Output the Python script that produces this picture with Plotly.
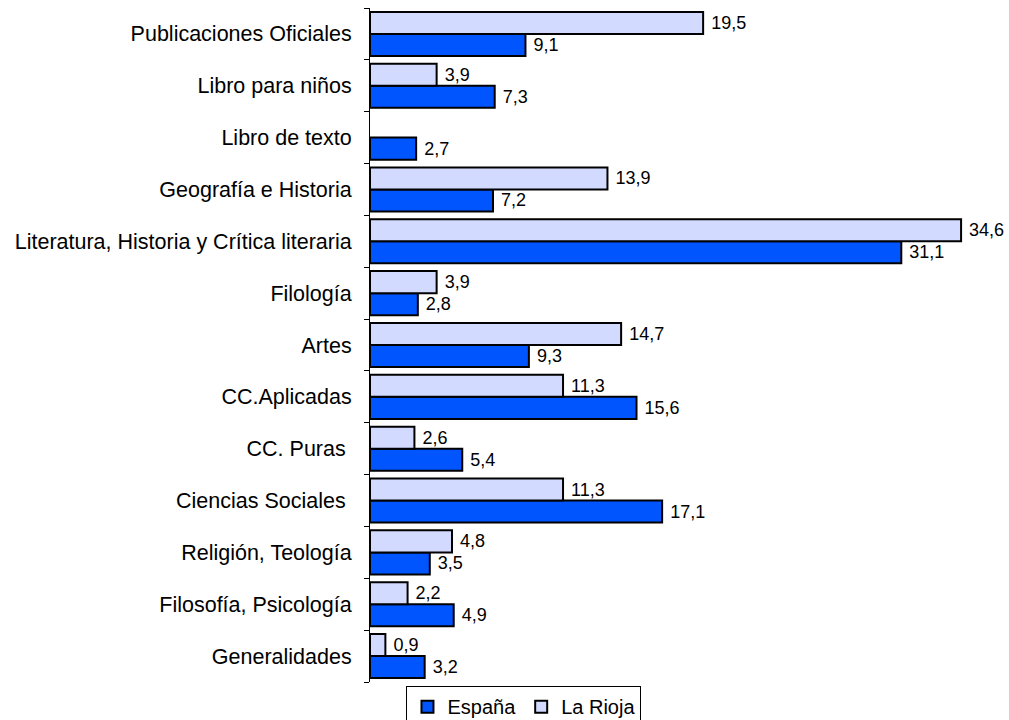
import plotly.graph_objects as go

categories = ["Generalidades", "Filosofía, Psicología", "Religión, Teología", "Ciencias Sociales ",
              "CC. Puras ", "CC.Aplicadas", "Artes", "Filología",
              "Literatura, Historia y Crítica literaria", "Geografía e Historia",
              "Libro de texto", "Libro para niños", "Publicaciones Oficiales"]
espana = [3.2, 4.9, 3.5, 17.1, 5.4, 15.6, 9.3, 2.8, 31.1, 7.2, 2.7, 7.3, 9.1]
la_rioja = [0.9, 2.2, 4.8, 11.3, 2.6, 11.3, 14.7, 3.9, 34.6, 13.9, None, 3.9, 19.5]

def fmt(vals):
    return ["" if v is None else " " + f"{v:.1f}".replace(".", ",") for v in vals]

FONT = "Liberation Sans, Arial, Helvetica, sans-serif"

fig = go.Figure()
fig.add_trace(go.Bar(
    y=categories, x=espana, orientation="h", name="España",
    marker=dict(color="#0055FF", line=dict(color="black", width=2)),
    text=fmt(espana), textposition="outside", cliponaxis=False,
    textfont=dict(color="black", size=18, family=FONT),
))
fig.add_trace(go.Bar(
    y=categories, x=la_rioja, orientation="h", name="La Rioja",
    marker=dict(color="#D2DAFF", line=dict(color="black", width=2)),
    text=fmt(la_rioja), textposition="outside", cliponaxis=False,
    textfont=dict(color="black", size=18, family=FONT),
))

fig.update_layout(
    width=1009, height=720,
    margin=dict(l=370, r=24, t=8, b=38, autoexpand=False),
    barmode="group", bargap=0.15, bargroupgap=0,
    plot_bgcolor="white", paper_bgcolor="white",
    font=dict(family=FONT, size=21, color="black"),
    xaxis=dict(range=[0, 36], showgrid=False, zeroline=False, showticklabels=False,
               showline=False, ticks=""),
    yaxis=dict(showline=True, linecolor="black", linewidth=1, ticks="outside",
               ticklen=5, tickcolor="black", tickson="boundaries", showgrid=False,
               ticklabelstandoff=13, tickfont=dict(size=21.5), automargin=False),
    legend=dict(orientation="h", xref="container", yref="container",
                x=0.5193, xanchor="center", y=0.047, yanchor="top",
                bordercolor="black", borderwidth=1, font=dict(size=20),
                itemwidth=30, tracegroupgap=0),
    showlegend=True,
)

fig.write_html("out.html", config={"displayModeBar": False},
               post_script="document.body.style.margin='0';document.body.style.overflow='hidden';")
